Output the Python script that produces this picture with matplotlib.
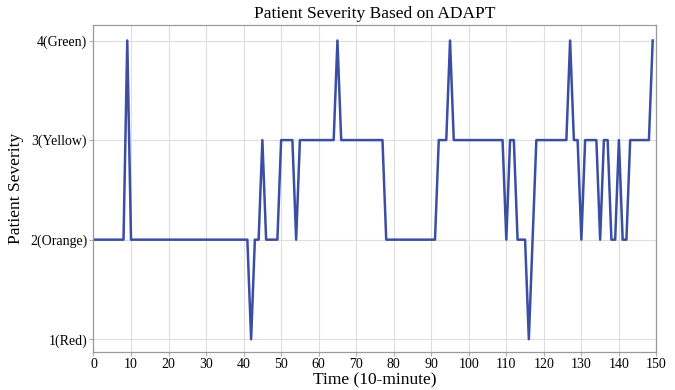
import matplotlib
matplotlib.use("Agg")
import matplotlib.pyplot as plt

# severity level per 10-minute step (t = 0..149)
severity = [
    2, 2, 2, 2, 2, 2, 2, 2, 2, 4,          # 0-9
    2, 2, 2, 2, 2, 2, 2, 2, 2, 2,          # 10-19
    2, 2, 2, 2, 2, 2, 2, 2, 2, 2,          # 20-29
    2, 2, 2, 2, 2, 2, 2, 2, 2, 2,          # 30-39
    2, 2, 1, 2, 2, 3, 2, 2, 2, 2,          # 40-49
    3, 3, 3, 3, 2, 3, 3, 3, 3, 3,          # 50-59
    3, 3, 3, 3, 3, 4, 3, 3, 3, 3,          # 60-69
    3, 3, 3, 3, 3, 3, 3, 3, 2, 2,          # 70-79
    2, 2, 2, 2, 2, 2, 2, 2, 2, 2,          # 80-89
    2, 2, 3, 3, 3, 4, 3, 3, 3, 3,          # 90-99
    3, 3, 3, 3, 3, 3, 3, 3, 3, 3,          # 100-109
    2, 3, 3, 2, 2, 2, 1, 2, 3, 3,          # 110-119
    3, 3, 3, 3, 3, 3, 3, 4, 3, 3,          # 120-129
    2, 3, 3, 3, 3, 2, 3, 3, 2, 2,          # 130-139
    3, 2, 2, 3, 3, 3, 3, 3, 3, 4,          # 140-149
]
time = list(range(len(severity)))
x_ticks = list(range(0, 151, 10))
y_ticks = [1, 2, 3, 4]
y_labels = ["1(Red)", "2(Orange)", "3(Yellow)", "4(Green)"]

plt.rcParams["font.family"] = ["Liberation Serif", "DejaVu Serif"]

fig = plt.figure(figsize=(6.75, 3.9), dpi=100)
ax = fig.add_axes([0.1385, 0.097, 0.834, 0.84])
ax.plot(time, severity, color="#3a4ea3", lw=1.8)

ax.set_xlim(0, 150)
ax.set_ylim(0.87, 4.16)
ax.set_xticks(x_ticks)
ax.set_yticks(y_ticks)
ax.set_yticklabels(y_labels)
ax.tick_params(labelsize=10, length=3, color="#b0b0b0", pad=1.5)
ax.grid(True, color="#dedede", lw=0.8)
ax.set_axisbelow(True)
for s in ax.spines.values():
    s.set_color("#9a9a9a")
    s.set_linewidth(0.9)

ax.set_title("Patient Severity Based on ADAPT", fontsize=12.5, pad=5)
ax.set_xlabel("Time (10-minute)", fontsize=12.5, labelpad=0.5)
ax.set_ylabel("Patient Severity", fontsize=12.5, labelpad=4)

fig.savefig("out.png", dpi=100)
